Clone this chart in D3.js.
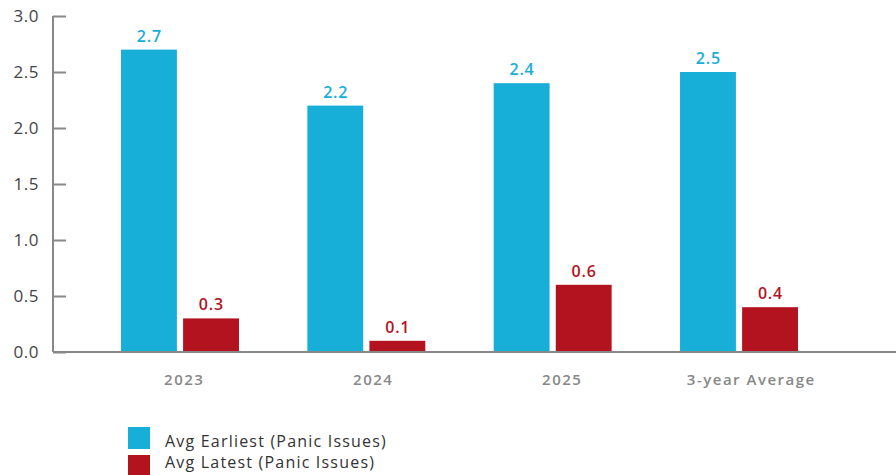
<!DOCTYPE html>
<html><head><meta charset="utf-8">
<script src="https://cdn.jsdelivr.net/npm/d3@7"></script>
<style>body{margin:0;background:#fff}svg{display:block}</style>
</head><body>
<script>
const categories = ["2023", "2024", "2025", "3-year Average"];
const seriesNames = ["Avg Earliest (Panic Issues)", "Avg Latest (Panic Issues)"];
const earliest = [2.7, 2.2, 2.4, 2.5];
const latest = [0.3, 0.1, 0.6, 0.4];
const yTicks = [0, 0.5, 1.0, 1.5, 2.0, 2.5, 3.0];
const colors = ["#17aed8", "#b2131e"];

const W = 896, H = 475;
const svg = d3.select("body").append("svg").attr("width", W).attr("height", H);
const font = "'Open Sans', 'Noto Sans', sans-serif";

const y = d3.scaleLinear().domain([0, 3]).range([352, 16]);
const x = d3.scaleBand().domain(categories).range([53, 866]).paddingInner(0.367).paddingOuter(0.365);
const xs = d3.scaleBand().domain([0, 1]).range([0, x.bandwidth()]).paddingInner(0.1);
const xLabel = d3.scalePoint().domain(categories).range([183, 750]);

// y axis
const yAxis = svg.append("g").attr("transform", "translate(53,0)")
  .call(d3.axisRight(y).tickValues(yTicks).tickSize(13).tickFormat(""));
yAxis.select(".domain").remove();
yAxis.selectAll(".tick line").attr("stroke", "#888").attr("stroke-width", 2);
svg.append("line").attr("x1", 53).attr("x2", 53).attr("y1", y(3)).attr("y2", y(0))
  .attr("stroke", "#888").attr("stroke-width", 2);
svg.selectAll(".ytl").data(yTicks).enter().append("text")
  .attr("x", 39).attr("y", d => y(d) + 6).attr("text-anchor", "end")
  .attr("font-family", font).attr("font-size", 17).attr("fill", "#444")
  .attr("letter-spacing", 0.5)
  .text(d => d3.format(".1f")(d));

// bars
const data = categories.map((c, i) => ({c, vals: [earliest[i], latest[i]]}));
const g = svg.selectAll(".grp").data(data).enter().append("g")
  .attr("transform", d => `translate(${x(d.c)},0)`);
g.selectAll("rect").data(d => d.vals).enter().append("rect")
  .attr("x", (v, i) => xs(i)).attr("width", xs.bandwidth())
  .attr("y", v => y(v)).attr("height", v => y(0) - y(v))
  .attr("fill", (v, i) => colors[i]);
g.selectAll(".vl").data(d => d.vals).enter().append("text")
  .attr("x", (v, i) => xs(i) + xs.bandwidth() / 2 + 0.4).attr("y", v => y(v) - 8)
  .attr("text-anchor", "middle").attr("font-family", font).attr("font-size", 16)
  .attr("font-weight", 600).attr("fill", (v, i) => colors[i]).attr("letter-spacing", 0.8)
  .text(v => d3.format(".1f")(v));

// x baseline
svg.append("line").attr("x1", 53).attr("x2", W).attr("y1", y(0)).attr("y2", y(0))
  .attr("stroke", "#888").attr("stroke-width", 2);
const xAxis = svg.append("g").attr("transform", `translate(0,${y(0)})`)
  .call(d3.axisBottom(xLabel).tickSize(0).tickPadding(22));
xAxis.select(".domain").remove();
xAxis.selectAll("text").attr("font-family", font).attr("font-size", 15)
  .attr("font-weight", 600).attr("fill", "#888").attr("letter-spacing", 1.5)
  .attr("dx", 0.75);

// legend
const leg = svg.selectAll(".leg").data(seriesNames).enter().append("g");
leg.append("rect").attr("x", 128).attr("y", (d, i) => 427 + i * 28)
  .attr("width", 22).attr("height", 22).attr("fill", (d, i) => colors[i]);
leg.append("text").attr("x", 165).attr("y", (d, i) => 447 + i * 21)
  .attr("font-family", font).attr("font-size", 16)
  .attr("fill", "#333").attr("letter-spacing", 1.2).text(d => d);
</script>
</body></html>
